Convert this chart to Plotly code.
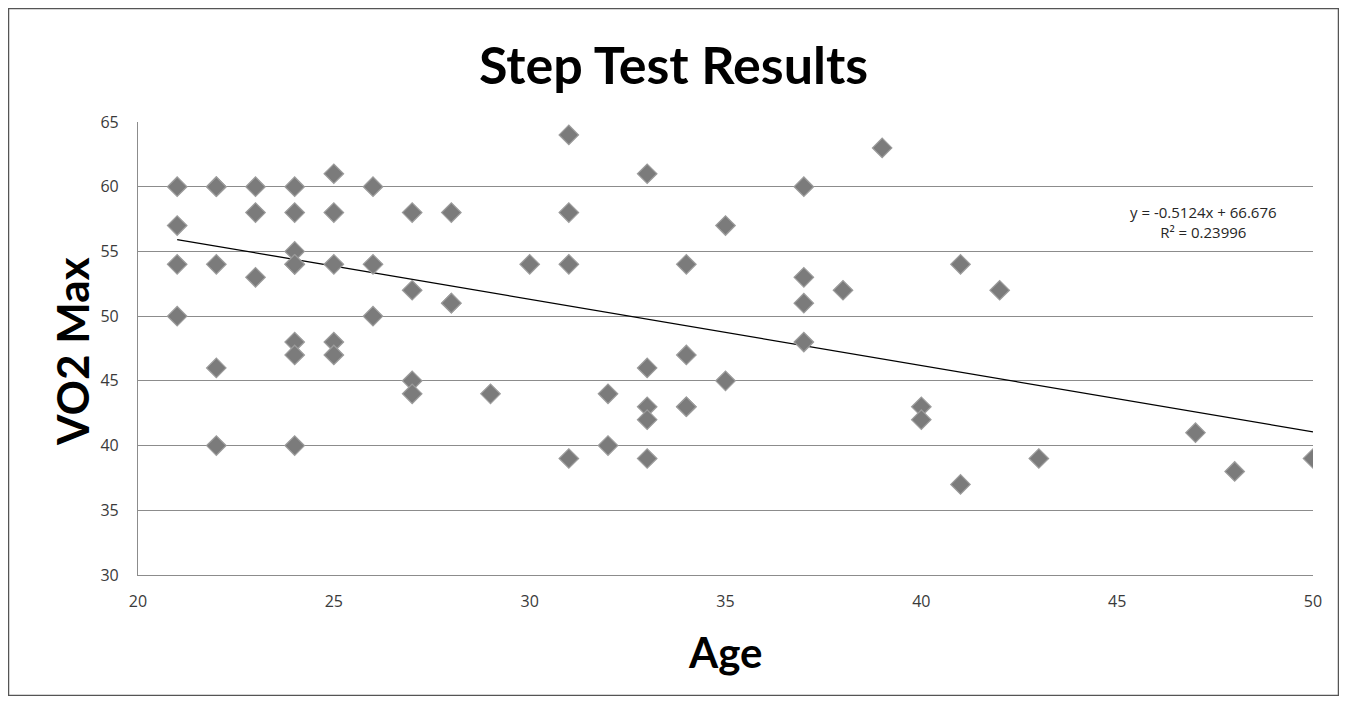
import plotly.graph_objects as go

# Data
age = [21, 21, 21, 21,
       22, 22, 22, 22, 22,
       23, 23, 23,
       24, 24, 24, 24, 24, 24, 24, 24,
       25, 25, 25, 25, 25,
       26, 26, 26,
       27, 27, 27, 27,
       28, 28, 28,
       29, 30,
       31, 31, 31, 31,
       32, 32,
       33, 33, 33, 33, 33,
       34, 34, 34, 34,
       35, 35,
       37, 37, 37, 37,
       38, 39,
       40, 40,
       41, 41,
       42, 43, 47, 48, 50]
vo2 = [60, 57, 54, 50,
       60, 60, 54, 46, 40,
       60, 58, 53,
       60, 58, 55, 54, 54, 48, 47, 40,
       61, 58, 54, 48, 47,
       60, 54, 50,
       58, 52, 45, 44,
       58, 51, 51,
       44, 54,
       64, 58, 54, 39,
       44, 40,
       61, 46, 43, 42, 39,
       54, 47, 43, 43,
       57, 45,
       60, 53, 51, 48,
       52, 63,
       43, 42,
       54, 37,
       52, 39, 41, 38, 39]

slope = -0.5124
intercept = 66.676
r_squared = 0.23996
trend_x = [min(age), max(age)]
trend_y = [slope * v + intercept for v in trend_x]

x_ticks = [20, 25, 30, 35, 40, 45, 50]
y_ticks = [30, 35, 40, 45, 50, 55, 60, 65]

# figure geometry (page body adds an 8px margin)
W, H = 1331, 688
L, R, T, B = 130, 26, 114, 121
PW, PH = W - L - R, H - T - B


def px_x(sx):
    # screen x -> paper x
    return (sx - 8 - L) / PW


def px_y(sy):
    # screen y -> paper y
    return (H - B - (sy - 8)) / PH


fig = go.Figure()
fig.add_trace(go.Scatter(
    x=trend_x, y=trend_y, mode="lines",
    line=dict(color="#000000", width=1.3),
    hoverinfo="skip", showlegend=False))
fig.add_trace(go.Scatter(
    x=age, y=vo2, mode="markers",
    marker=dict(symbol="diamond", size=15, color="#7b7b7b",
                line=dict(color="#9c9c9c", width=1.2)),
    showlegend=False))

fig.add_annotation(
    x=px_x(1203), y=px_y(222), xref="paper", yref="paper", showarrow=False,
    text=f"y = {slope}x + {intercept}<br>R² = {r_squared}",
    font=dict(family="Open Sans", size=15, color="#262626"),
    align="center", xanchor="center", yanchor="middle")

fig.add_annotation(
    x=px_x(72), y=px_y(352), xref="paper", yref="paper", showarrow=False,
    text="<b>VO2 Max</b>", textangle=-90,
    font=dict(family="Lato", size=44, color="#000000"),
    xanchor="center", yanchor="middle")
fig.add_annotation(
    x=px_x(725), y=px_y(652), xref="paper", yref="paper", showarrow=False,
    text="<b>Age</b>",
    font=dict(family="Lato", size=42, color="#000000"),
    xanchor="center", yanchor="middle")

fig.add_shape(type="rect", xref="paper", yref="paper",
              x0=px_x(8.5), x1=px_x(1338.5),
              y0=px_y(695.5), y1=px_y(8.5),
              line=dict(color="#555555", width=1.5), fillcolor="rgba(0,0,0,0)")

fig.update_layout(
    width=W, height=H,
    margin=dict(l=L, r=R, t=T, b=B),
    paper_bgcolor="white", plot_bgcolor="white",
    title=dict(text="<b>Step Test Results</b>", x=0.5, xanchor="center",
               y=(H - (66 - 8)) / H, yanchor="middle",
               font=dict(family="Lato", size=52, color="#000000")),
    xaxis=dict(range=[20, 50], tickvals=x_ticks, showgrid=False,
               showline=True, linecolor="#8c8c8c", linewidth=1.2,
               ticks="", ticklabelstandoff=12,
               tickfont=dict(family="Open Sans", size=16, color="#3a3a3a"),
               zeroline=False, fixedrange=True),
    yaxis=dict(range=[30, 65], tickvals=y_ticks, showgrid=True,
               gridcolor="#8c8c8c", gridwidth=1.2,
               showline=True, linecolor="#8c8c8c", linewidth=1.2,
               ticks="", ticklabelstandoff=15,
               tickfont=dict(family="Open Sans", size=16, color="#3a3a3a"),
               zeroline=False, fixedrange=True),
)

fig.write_html("out.html")
